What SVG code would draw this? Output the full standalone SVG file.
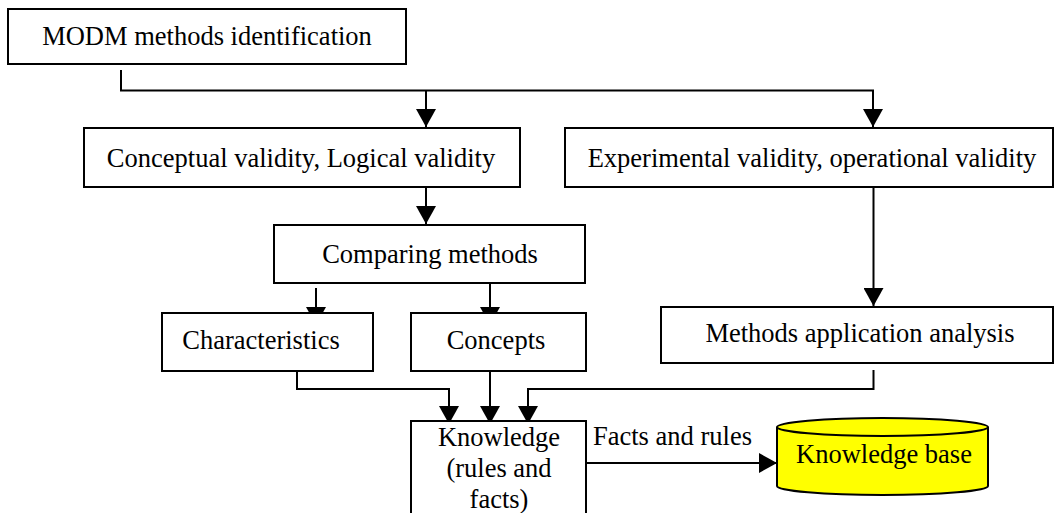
<svg xmlns="http://www.w3.org/2000/svg" width="1055" height="513" viewBox="0 0 1055 513">
<style>
.box{fill:#fff;stroke:#000;stroke-width:2}
.t{font-family:"Liberation Serif","Times New Roman",serif;font-size:26.5px;fill:#000;text-anchor:middle}
.ln{fill:none;stroke:#000;stroke-width:2}
</style>
<defs>
<marker id="ah" markerUnits="userSpaceOnUse" markerWidth="20" markerHeight="20" refX="18" refY="10" orient="auto">
<path d="M0,0 L18,10 L0,20 Z" fill="#000"/>
</marker>
</defs>
<rect width="1055" height="513" fill="#fff"/>
<g id="connectors">
<path class="ln" d="M121,70 V90.5 H873 V127" marker-end="url(#ah)"/>
<path class="ln" d="M426,90.5 V127" marker-end="url(#ah)"/>
<path class="ln" d="M426,187 V224" marker-end="url(#ah)"/>
<path class="ln" d="M873.5,187 V306" marker-end="url(#ah)"/>
<path class="ln" d="M316,288 V325" marker-end="url(#ah)"/>
<path class="ln" d="M490,283 V325" marker-end="url(#ah)"/>
<path class="ln" d="M297,371 V389 H449 V424" marker-end="url(#ah)"/>
<path class="ln" d="M490,371 V424" marker-end="url(#ah)"/>
<path class="ln" d="M873.5,370 V389 H528 V424" marker-end="url(#ah)"/>
<path class="ln" d="M586,463 H777" marker-end="url(#ah)"/>
<text class="t" x="593" y="445" style="text-anchor:start">Facts and rules</text>
</g>
<g id="modm">
<rect class="box" x="8" y="9" width="398" height="55"/>
<text class="t" x="207" y="45">MODM methods identification</text>
</g>
<g id="conceptual">
<rect class="box" x="84" y="128" width="436" height="59"/>
<text class="t" x="301" y="167">Conceptual validity, Logical validity</text>
</g>
<g id="experimental">
<rect class="box" x="565" y="128" width="488" height="59"/>
<text class="t" x="812" y="167">Experimental validity, operational validity</text>
</g>
<g id="comparing">
<rect class="box" x="274" y="225" width="311" height="58"/>
<text class="t" x="430" y="263">Comparing methods</text>
</g>
<g id="characteristics">
<rect class="box" x="162" y="313" width="211" height="58"/>
<text class="t" x="261" y="349">Characteristics</text>
</g>
<g id="concepts">
<rect class="box" x="411" y="313" width="175" height="58"/>
<text class="t" x="496" y="349">Concepts</text>
</g>
<g id="application">
<rect class="box" x="661" y="307" width="392" height="56"/>
<text class="t" x="860" y="342">Methods application analysis</text>
</g>
<g id="knowledge">
<rect class="box" x="411" y="421" width="175" height="100"/>
<text class="t" x="499" y="446">Knowledge</text>
<text class="t" x="499" y="477">(rules and</text>
<text class="t" x="499" y="508">facts)</text>
</g>
<g id="knowledgebase">
<path d="M777,427 V486 A105.5,9 0 0 0 988,486 V427 A105.5,9 0 0 0 777,427 Z" fill="#ffff00" stroke="#000" stroke-width="2"/>
<path d="M777,427 A105.5,9 0 0 0 988,427" fill="none" stroke="#000" stroke-width="2"/>
<text class="t" x="884" y="463">Knowledge base</text>
</g>
</svg>
